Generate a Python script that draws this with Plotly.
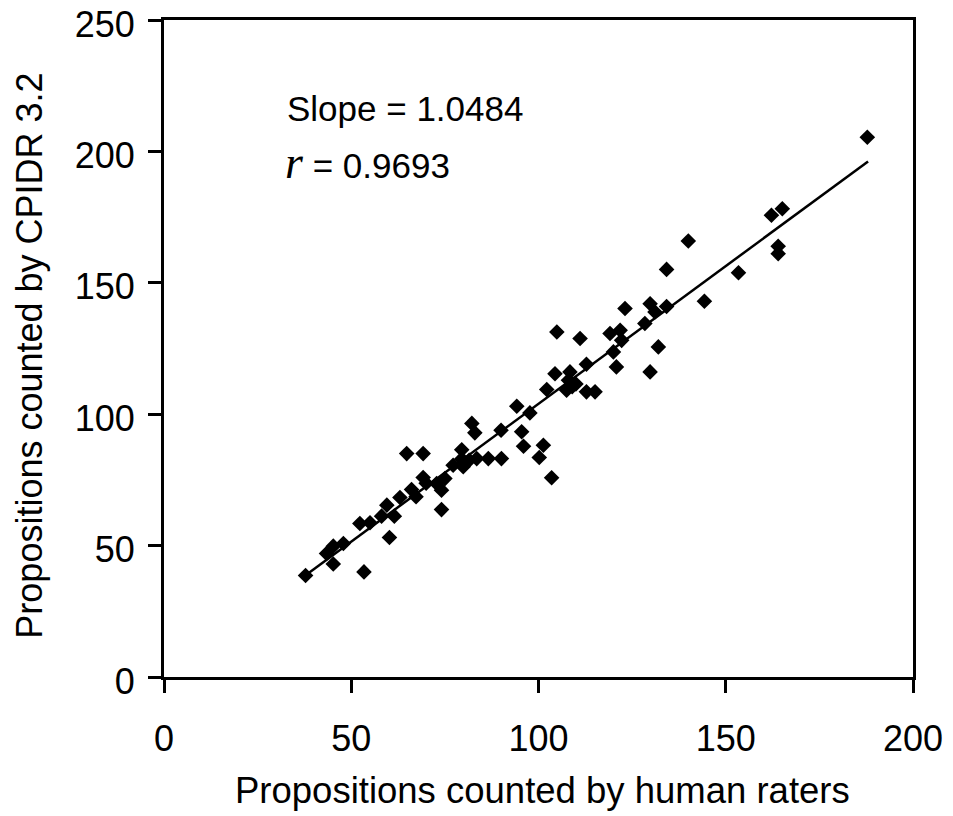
import plotly.graph_objects as go

human = [37.8, 53.4, 45.2, 43.4, 45.2, 47.9, 60.2, 52.3, 55.0, 58.1,
         59.5, 61.5, 63.0, 66.1, 67.3, 74.1, 69.2, 70.0, 72.8, 74.1,
         75.0, 64.8, 69.2, 77.2, 79.5, 79.9, 82.2, 83.0, 83.5, 86.6,
         90.1, 90.0, 94.2, 97.7, 95.5, 96.0, 101.3, 100.2, 103.5, 102.2,
         107.5, 104.9, 111.1, 123.1, 129.8, 131.1, 134.2, 119.1, 121.8, 122.2,
         128.4, 132.0, 129.8, 120.0, 120.8, 112.8, 104.4, 108.4, 108.0, 112.8,
         115.1, 134.2, 140.0, 144.3, 153.4, 162.2, 165.1, 164.0, 164.0, 187.8,
         81.5, 79.5, 110.0, 109.0]
cpidr = [38.6, 40.0, 43.0, 47.0, 49.8, 50.8, 53.1, 58.4, 58.7, 61.2,
         65.4, 61.2, 68.3, 71.3, 68.6, 63.7, 75.9, 73.7, 73.6, 71.1,
         75.5, 85.0, 85.0, 80.6, 86.5, 80.0, 96.5, 92.9, 83.1, 83.1,
         83.1, 93.9, 103.0, 100.5, 93.3, 87.8, 88.2, 83.5, 75.8, 109.4,
         109.1, 131.3, 128.8, 140.2, 142.0, 138.9, 141.0, 130.7, 131.9, 128.1,
         134.5, 125.6, 116.1, 123.7, 118.0, 119.0, 115.4, 116.1, 112.9, 108.5,
         108.5, 155.1, 165.9, 143.0, 153.8, 175.7, 178.2, 163.9, 161.1, 205.4,
         82.5, 83.0, 111.5, 110.5]

fit_slope = 1.0484
fit_intercept = -0.9
fit_x = [38, 188]
fit_y = [fit_slope * v + fit_intercept for v in fit_x]

x_ticks = [0, 50, 100, 150, 200]
y_ticks = [0, 50, 100, 150, 200, 250]

FONT = "Liberation Sans, Arial, sans-serif"

fig = go.Figure()
fig.add_trace(go.Scatter(x=fit_x, y=fit_y, mode="lines",
                         line=dict(color="black", width=2.5), showlegend=False,
                         hoverinfo="skip"))
fig.add_trace(go.Scatter(x=human, y=cpidr, mode="markers",
                         marker=dict(symbol="diamond", size=12, color="black"),
                         showlegend=False))

axis_common = dict(showgrid=False, zeroline=False, showline=True, linecolor="black",
                   linewidth=3, mirror=True, ticks="outside", ticklen=13,
                   tickwidth=3, tickcolor="black", ticklabeloverflow="allow",
                   automargin=False,
                   tickfont=dict(family=FONT, size=36, color="black"))

fig.update_xaxes(range=[0, 200], tickvals=x_ticks, ticklabelstandoff=15, **axis_common)
fig.update_yaxes(range=[0, 250], tickvals=y_ticks, ticklabelstandoff=6,
                 ticklabelshift=4, **axis_common)

fig.add_annotation(xref="paper", yref="paper", x=0.506, y=-0.1734,
                   text="Propositions counted by human raters", showarrow=False,
                   xanchor="center", yanchor="middle",
                   font=dict(family=FONT, size=36.5, color="black"))
fig.add_annotation(xref="paper", yref="paper", x=-0.179, y=0.489,
                   text="Propositions counted by CPIDR 3.2", showarrow=False,
                   textangle=-90, xanchor="center", yanchor="middle",
                   font=dict(family=FONT, size=36, color="black"))
fig.add_annotation(xref="paper", yref="paper", x=0.1615, y=0.865,
                   text="Slope = %.4f" % fit_slope, showarrow=False,
                   xanchor="left", yanchor="middle",
                   font=dict(family=FONT, size=35, color="black"))
fig.add_annotation(xref="paper", yref="paper", x=0.159, y=0.783,
                   text='<span style="font-family:Liberation Serif, Times New Roman, serif;font-size:46px"><i>r</i></span> = 0.9693',
                   showarrow=False, xanchor="left", yanchor="middle",
                   font=dict(family=FONT, size=35, color="black"))

fig.update_layout(width=945, height=808, plot_bgcolor="white", paper_bgcolor="white",
                  margin=dict(l=156, r=40, t=11.5, b=139), showlegend=False)

fig.write_html("out.html")
